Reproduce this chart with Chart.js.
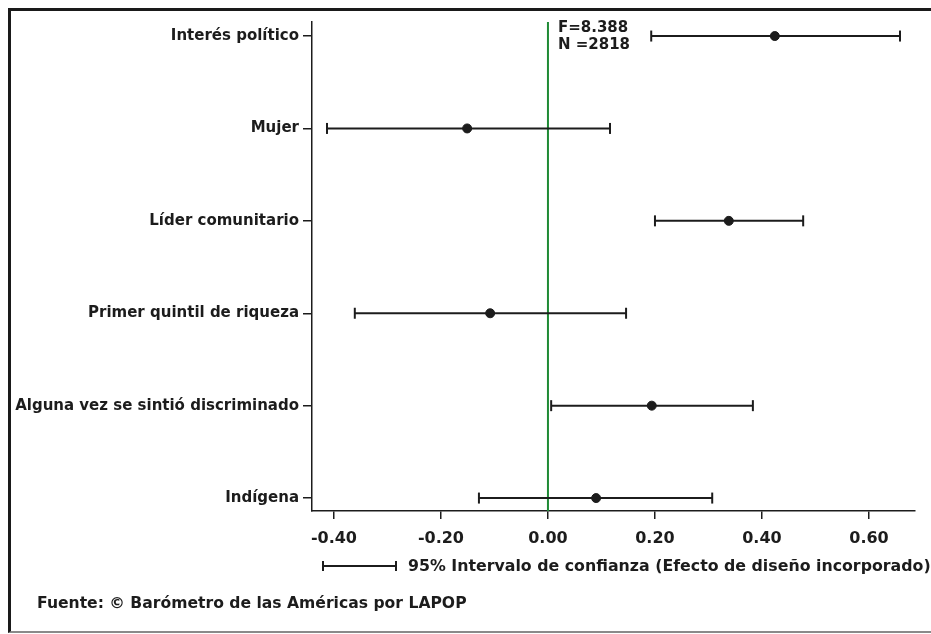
<!DOCTYPE html>
<html>
<head>
<meta charset="utf-8">
<title>Interés político - intervalo de confianza</title>
<script src="https://cdn.jsdelivr.net/npm/chart.js@4/dist/chart.umd.min.js"></script>
<style>
    html, body { margin: 0; padding: 0; background: #fff; overflow: hidden; }
    #wrap { position: relative; width: 931px; height: 634px; }
    #frame {
        position: absolute; left: 8px; top: 8px; width: 940px; height: 625px;
        box-sizing: border-box;
        border-top: 3px solid #1a1a1a;
        border-left: 3px solid #1a1a1a;
        border-bottom: 2px solid #8a8a8a;
    }
    canvas { position: absolute; left: 0; top: 0; }
</style>
</head>
<body>
<div id="wrap">
    <div id="frame"></div>
    <canvas id="chart" width="931" height="634"></canvas>
</div>
<script>
// Data
const categories = [
    'Interés político',
    'Mujer',
    'Líder comunitario',
    'Primer quintil de riqueza',
    'Alguna vez se sintió discriminado',
    'Indígena'
];
const estimates = [0.424, -0.151, 0.338, -0.108, 0.194, 0.090];
const lowerCI   = [0.193, -0.413, 0.200, -0.361, 0.006, -0.129];
const upperCI   = [0.658, 0.116, 0.477, 0.146, 0.383, 0.307];
const xTicks    = [-0.4, -0.2, 0, 0.2, 0.4, 0.6];
const statLines = ['F=8.388', 'N =2818'];
const legendText = '95% Intervalo de confianza (Efecto de diseño incorporado)';
const sourceText = 'Fuente: © Barómetro de las Américas por LAPOP';

const INK = '#1c1c1c';
const GREEN = '#1f8a35';
const FONT = '"DejaVu Sans", "Liberation Sans", Arial, sans-serif';
const X_MIN = -0.441, X_MAX = 0.686;
const Y_MIN = -0.152, Y_MAX = 5.14;

// one dataset per confidence interval, capped ends
const ciSets = categories.map((c, i) => ({
    type: 'line',
    label: c,
    data: [{ x: lowerCI[i], y: i }, { x: upperCI[i], y: i }],
    borderColor: INK,
    borderWidth: 2,
    pointStyle: 'line',
    pointRotation: 90,
    pointRadius: 5.5,
    pointBorderWidth: 2,
    pointBorderColor: INK,
    order: 2
}));

const pointSet = {
    type: 'scatter',
    label: 'Coeficiente',
    data: estimates.map((v, i) => ({ x: v, y: i })),
    backgroundColor: INK,
    borderColor: INK,
    pointRadius: 4.5,
    order: 1
};

const zeroLine = {
    type: 'line',
    label: 'cero',
    data: [{ x: 0, y: Y_MIN }, { x: 0, y: Y_MAX }],
    borderColor: GREEN,
    borderWidth: 2,
    pointRadius: 0,
    order: 3
};

// F / N text, legend and source note
const extrasPlugin = {
    id: 'extras',
    afterDraw(chart) {
        const ctx = chart.ctx;
        const x0 = chart.scales.x.getPixelForValue(0);
        ctx.save();
        ctx.fillStyle = INK;
        ctx.font = 'bold 15px ' + FONT;
        ctx.textBaseline = 'middle';
        ctx.textAlign = 'left';
        ctx.fillText(statLines[0], x0 + 10, 28);
        ctx.fillText(statLines[1], x0 + 10, 45);

        // legend key
        ctx.strokeStyle = INK;
        ctx.lineWidth = 2;
        ctx.beginPath();
        ctx.moveTo(322, 566); ctx.lineTo(397, 566);
        ctx.moveTo(323, 561); ctx.lineTo(323, 571);
        ctx.moveTo(396, 561); ctx.lineTo(396, 571);
        ctx.stroke();
        ctx.font = 'bold 15.8px ' + FONT;
        ctx.fillText(legendText, 408, 567);

        ctx.font = 'bold 15.6px ' + FONT;
        ctx.fillText(sourceText, 37, 604);
        ctx.restore();
    }
};

new Chart(document.getElementById('chart'), {
    data: { datasets: [zeroLine, ...ciSets, pointSet] },
    options: {
        responsive: false,
        animation: false,
        devicePixelRatio: 1,
        layout: { padding: { top: 22, right: 16, bottom: 83, left: 0 } },
        plugins: { legend: { display: false }, tooltip: { enabled: false } },
        scales: {
            x: {
                type: 'linear',
                min: X_MIN,
                max: X_MAX,
                afterBuildTicks: s => { s.ticks = xTicks.map(v => ({ value: v })); },
                afterFit: s => { s.height = 40; },
                ticks: {
                    callback: v => v.toFixed(2),
                    color: INK,
                    font: { family: FONT, size: 16, weight: 'bold' },
                    padding: 10,
                    autoSkip: false,
                    maxRotation: 0
                },
                grid: { drawOnChartArea: false, tickLength: 8, color: INK, lineWidth: 1.5 },
                border: { color: INK, width: 1.5 }
            },
            y: {
                type: 'linear',
                reverse: true,
                min: Y_MIN,
                max: Y_MAX,
                afterBuildTicks: s => { s.ticks = categories.map((c, i) => ({ value: i })); },
                afterFit: s => { s.width = 312; },
                ticks: {
                    callback: v => categories[v],
                    color: INK,
                    font: { family: FONT, size: 15, weight: 'bold' },
                    padding: 4,
                    autoSkip: false
                },
                grid: { drawOnChartArea: false, tickLength: 9, color: INK, lineWidth: 1.5 },
                border: { color: INK, width: 1.5 }
            }
        }
    },
    plugins: [extrasPlugin]
});
</script>
</body>
</html>
